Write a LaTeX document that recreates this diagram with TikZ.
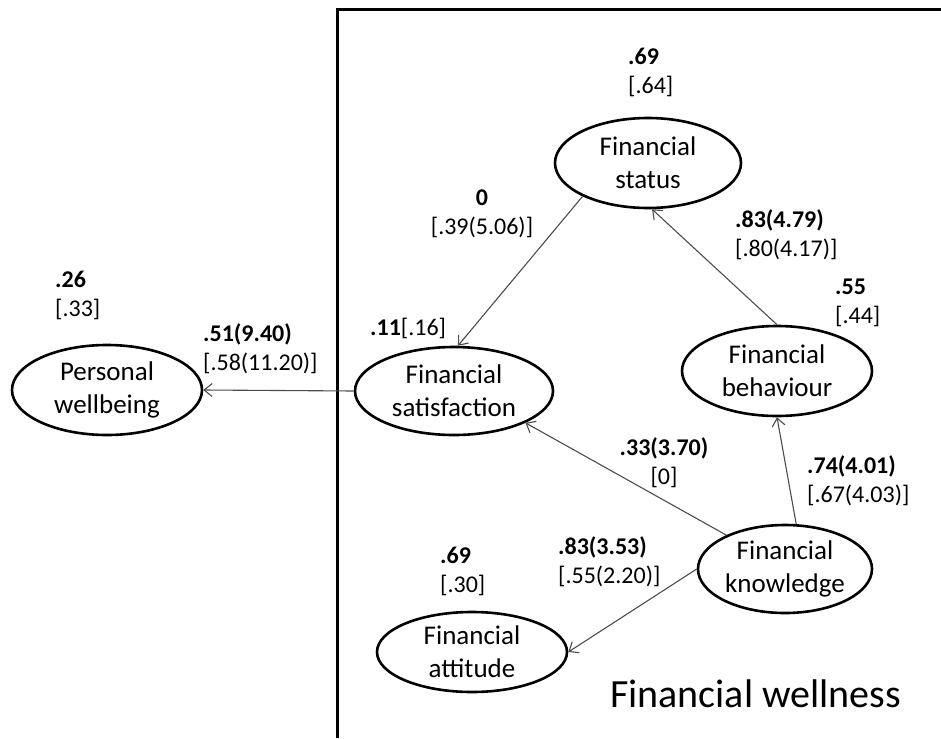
\documentclass[tikz,border=0pt]{standalone}
\usepackage{fontspec}
\setmainfont{Carlito}
\usetikzlibrary{shapes.geometric,arrows.meta}
\begin{document}
\begin{tikzpicture}[x=1pt,y=-1pt,
    latent/.style={ellipse, draw, line width=2.6pt, inner sep=0pt, align=center, font=\fontsize{27}{33}\selectfont},
    coef/.style={inner sep=0pt, align=left, anchor=west, font=\fontsize{24}{29}\selectfont},
    effect/.style={-{Straight Barb[length=8pt,width=13pt]}, line width=1.1pt, draw=black!70}]
        \useasboundingbox (0,0) rectangle (941,738);
        % Frame of the wellness block
        \draw[line width=3pt] (337,738) -- (337,10) -- (941,10);

        % Latent variables
        \node[latent, minimum width=190pt, minimum height=90pt] (pw) at (107,390) {Personal\\wellbeing};
        \node[latent, minimum width=198pt, minimum height=88pt] (sat) at (454,391) {Financial\\satisfaction};
        \node[latent, minimum width=186pt, minimum height=90pt] (status) at (648,163) {Financial\\status};
        \node[latent, minimum width=190pt, minimum height=90pt] (beh) at (777,371) {Financial\\behaviour};
        \node[latent, minimum width=174pt, minimum height=88pt] (know) at (785,569) {Financial\\knowledge};
        \node[latent, minimum width=190pt, minimum height=80pt] (att) at (472,652) {Financial\\attitude};

        % Paths
        \draw[effect] (sat.west) -- (pw.east);
        \draw[effect] (status.207) -- (sat.85);
        \draw[effect] (beh.north) -- (status.275);
        \draw[effect] (know.76) -- (beh.south);
        \draw[effect] (know.150) -- (sat.336);
        \draw[effect] (know.west) -- (att.east);

        % Coefficients and R^2
        \node[coef] (r2status) at (628,72) {\textbf{.69}\\{[.64]}};
        \node[coef, align=center, anchor=center] (bstatsat) at (482,214) {\textbf{0}\\{[.39(5.06)]}};
        \node[coef] (bbehstat) at (735,235) {\textbf{.83(4.79)}\\{[.80(4.17)]}};
        \node[coef] (r2beh) at (835,303) {\textbf{.55}\\{[.44]}};
        \node[coef] (r2pw) at (55,295) {\textbf{.26}\\{[.33]}};
        \node[coef] (bsatpw) at (203,349) {\textbf{.51(9.40)}\\{[.58(11.20)]}};
        \node[coef] (r2sat) at (370,328) {\textbf{.11}[.16]};
        \node[coef, align=center, anchor=center] (bknowsat) at (664,463) {\textbf{.33(3.70)}\\{[0]}};
        \node[coef] (bknowbeh) at (807,481) {\textbf{.74(4.01)}\\{[.67(4.03)]}};
        \node[coef] (r2att) at (440,571) {\textbf{.69}\\{[.30]}};
        \node[coef] (bknowatt) at (558,562) {\textbf{.83(3.53)}\\{[.55(2.20)]}};

        \node[anchor=base west, inner sep=0pt, font=\fontsize{40}{48}\selectfont] (wellness) at (610,707) {Financial wellness};
\end{tikzpicture}
\end{document}
